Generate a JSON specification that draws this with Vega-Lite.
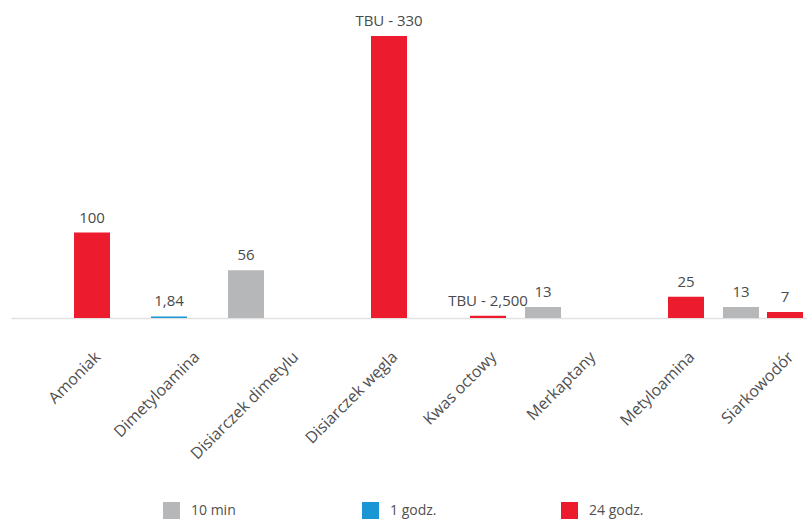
{
  "$schema": "https://vega.github.io/schema/vega-lite/v6.json",
  "width": 795,
  "height": 282,
  "autosize": {"type": "none"},
  "padding": {"left": 12, "top": 36, "right": 0, "bottom": 202},
  "background": "white",
  "config": {"view": {"stroke": null}, "font": "Open Sans"},
  "data": {
    "values": [
      {"substancja": "Amoniak", "czas": "24 godz.", "wartosc": 100, "etykieta": "100"},
      {"substancja": "Dimetyloamina", "czas": "1 godz.", "wartosc": 1.84, "etykieta": "1,84"},
      {"substancja": "Disiarczek dimetylu", "czas": "10 min", "wartosc": 56, "etykieta": "56"},
      {"substancja": "Disiarczek węgla", "czas": "24 godz.", "wartosc": 330, "etykieta": "TBU - 330"},
      {"substancja": "Kwas octowy", "czas": "24 godz.", "wartosc": 2.5, "etykieta": "TBU - 2,500"},
      {"substancja": "Merkaptany", "czas": "10 min", "wartosc": 13, "etykieta": "13"},
      {"substancja": "Metyloamina", "czas": "24 godz.", "wartosc": 25, "etykieta": "25"},
      {"substancja": "Siarkowodór", "czas": "10 min", "wartosc": 13, "etykieta": "13"},
      {"substancja": "Siarkowodór", "czas": "24 godz.", "wartosc": 7, "etykieta": "7"}
    ]
  },
  "encoding": {
    "x": {
      "field": "substancja",
      "type": "nominal",
      "sort": null,
      "scale": {"range": [-1, 810], "paddingInner": 0.333, "paddingOuter": 0.2625},
      "axis": {
        "title": null,
        "ticks": false,
        "grid": false,
        "domainColor": "#e2e2e2",
        "domainWidth": 1.5,
        "labelAngle": -45,
        "labelAlign": "right",
        "labelBaseline": "middle",
        "labelFont": "Open Sans",
        "labelFontSize": 16,
        "labelColor": "#505050",
        "labelPadding": 36,
        "labelOffset": 28,
        "labelLimit": 300
      }
    },
    "xOffset": {
      "field": "czas",
      "type": "nominal",
      "scale": {"domain": ["10 min", "1 godz.", "24 godz."], "paddingInner": 0, "paddingOuter": 0}
    },
    "y": {
      "field": "wartosc",
      "type": "quantitative",
      "scale": {"domain": [0, 330], "nice": false},
      "axis": null
    }
  },
  "layer": [
    {
      "mark": {"type": "bar", "width": 36},
      "encoding": {
        "color": {
          "field": "czas",
          "type": "nominal",
          "scale": {"domain": ["10 min", "1 godz.", "24 godz."], "range": ["#b5b7b9", "#1a96d5", "#ec1b2e"]},
          "legend": {
            "orient": "none",
            "legendX": 151,
            "legendY": 466,
            "direction": "horizontal",
            "title": null,
            "symbolType": "square",
            "symbolSize": 289,
            "symbolStrokeWidth": 0,
            "labelFont": "Open Sans",
            "labelFontSize": 14,
            "labelColor": "#505050",
            "labelOffset": 11,
            "columnPadding": 116,
            "gridAlign": "all",
            "padding": 0
          }
        }
      }
    },
    {
      "mark": {"type": "text", "dy": -10, "baseline": "alphabetic", "align": "center", "fontSize": 15, "font": "Open Sans", "color": "#4a4a4a"},
      "encoding": {"text": {"field": "etykieta"}}
    }
  ]
}
